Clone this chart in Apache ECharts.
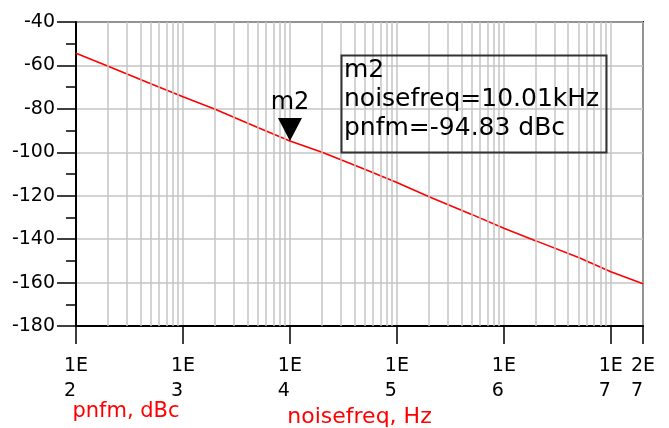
<!DOCTYPE html>
<html>
<head>
<meta charset="utf-8">
<script src="https://cdn.jsdelivr.net/npm/echarts@6/dist/echarts.min.js"></script>
<style>
  html, body { margin: 0; padding: 0; background: #fff; }
  #main { width: 669px; height: 428px; }
</style>
</head>
<body>
<div id="main"></div>
<script>
'use strict'

// phase noise trace
const noisefreq = [100, 200, 500, 1e3, 2e3, 5e3, 1e4, 2e4, 5e4, 1e5, 2e5, 5e5, 1e6, 2e6, 5e6, 1e7, 2e7];
const pnfm = [-54.4, -60.4, -68.4, -74.4, -80.2, -88.6, -94.8, -100.0, -107.8, -113.9, -120.5, -128.6, -135.0, -140.8, -148.5, -155.0, -160.5];

// marker readout
const markerName = 'm2';
const markerFreq = 10010;
const markerVal = -94.83;

// axes
const xMin = 100, xMax = 2e7;
const yMin = -180, yMax = -40, yStep = 20;
const decades = [100, 1e3, 1e4, 1e5, 1e6];
const minorSteps = [2, 3, 4, 5, 6, 7, 8, 9];

const FONT = 'DejaVu Sans';
const GRID_COLOR = '#c4c4c4';

var myChart = echarts.init(document.getElementById('main'));

// vertical minor grid lines 2..9 inside each decade
let minorLines = [];
decades.forEach(d => {
  minorSteps.forEach(m => minorLines.push({ xAxis: d * m }));
});

let trace = noisefreq.map((f, i) => [f, pnfm[i]]);

let boxText = markerName + '\n' +
  'noisefreq=' + (markerFreq / 1000).toFixed(2) + 'kHz\n' +
  'pnfm=' + markerVal.toFixed(2) + ' dBc';

var option = {
  animation: false,
  backgroundColor: '#fff',
  grid: {
    left: 76, top: 22, right: 26, bottom: 102,
    outerBoundsMode: 'none',
    containLabel: false,
    show: true, borderColor: '#000', borderWidth: 2
  },
  xAxis: {
    type: 'log',
    logBase: 10,
    min: xMin,
    max: xMax,
    name: 'noisefreq, Hz',
    nameLocation: 'middle',
    nameGap: 75,
    nameTextStyle: { color: '#ff0000', fontFamily: FONT, fontSize: 22 },
    axisLine: { show: true, lineStyle: { color: '#000', width: 2 } },
    axisTick: { show: true, length: 18, lineStyle: { color: '#000', width: 1.5 } },
    axisLabel: {
      margin: 28,
      formatter: function (v) {
        let e = Math.floor(Math.log10(v) + 1e-6);
        let m = Math.round(v / Math.pow(10, e));
        return '{t|' + m + 'E}\n{t|' + e + '}';
      },
      rich: {
        t: { align: 'left', fontFamily: FONT, fontSize: 19, lineHeight: 25, color: '#000' }
      }
    },
    splitLine: { show: true, lineStyle: { color: GRID_COLOR, width: 1.5 } }
  },
  yAxis: {
    type: 'value',
    min: yMin,
    max: yMax,
    interval: yStep,
    name: 'pnfm, dBc',
    nameLocation: 'start',
    nameGap: 69,
    nameTextStyle: { color: '#ff0000', fontFamily: FONT, fontSize: 21, padding: [0, 0, 0, 100] },
    axisLine: { show: true, lineStyle: { color: '#000', width: 2 } },
    axisTick: { show: true, length: 19, lineStyle: { color: '#000', width: 1.5 } },
    minorTick: { show: true, splitNumber: 2, length: 10, lineStyle: { color: '#000', width: 1.5 } },
    axisLabel: { margin: 21, color: '#000', fontFamily: FONT, fontSize: 19 },
    splitLine: { show: true, lineStyle: { color: GRID_COLOR, width: 1.5 } }
  },
  series: [
    {
      // only carries the minor vertical grid lines
      type: 'line',
      data: [],
      z: 1,
      silent: true,
      markLine: {
        silent: true,
        symbol: ['none', 'none'],
        label: { show: false },
        lineStyle: { color: GRID_COLOR, width: 1.5, type: 'solid' },
        emphasis: { disabled: true },
        data: minorLines
      }
    },
    {
      type: 'line',
      data: trace,
      z: 3,
      showSymbol: false,
      lineStyle: { color: '#ff0000', width: 1.6 },
      markPoint: {
        symbol: 'path://M0,0 L24,0 L12,22 Z',
        symbolSize: [24, 23],
        symbolOffset: [0, -11.5],
        itemStyle: { color: '#000' },
        label: {
          show: true,
          position: 'top',
          distance: 3,
          formatter: markerName,
          color: '#000',
          fontFamily: FONT,
          fontSize: 24
        },
        data: [{ coord: [markerFreq, markerVal] }]
      }
    }
  ],
  graphic: [
    {
      type: 'rect',
      left: 339, top: 53,
      shape: { width: 265, height: 97 },
      style: { fill: 'none', stroke: '#333', lineWidth: 2 },
      z: 10
    },
    {
      type: 'text',
      left: 344, top: 56,
      style: { text: boxText, fontFamily: FONT, fontSize: 25, lineHeight: 29, fill: '#000' },
      z: 10
    }
  ]
};

myChart.setOption(option);
</script>
</body>
</html>
